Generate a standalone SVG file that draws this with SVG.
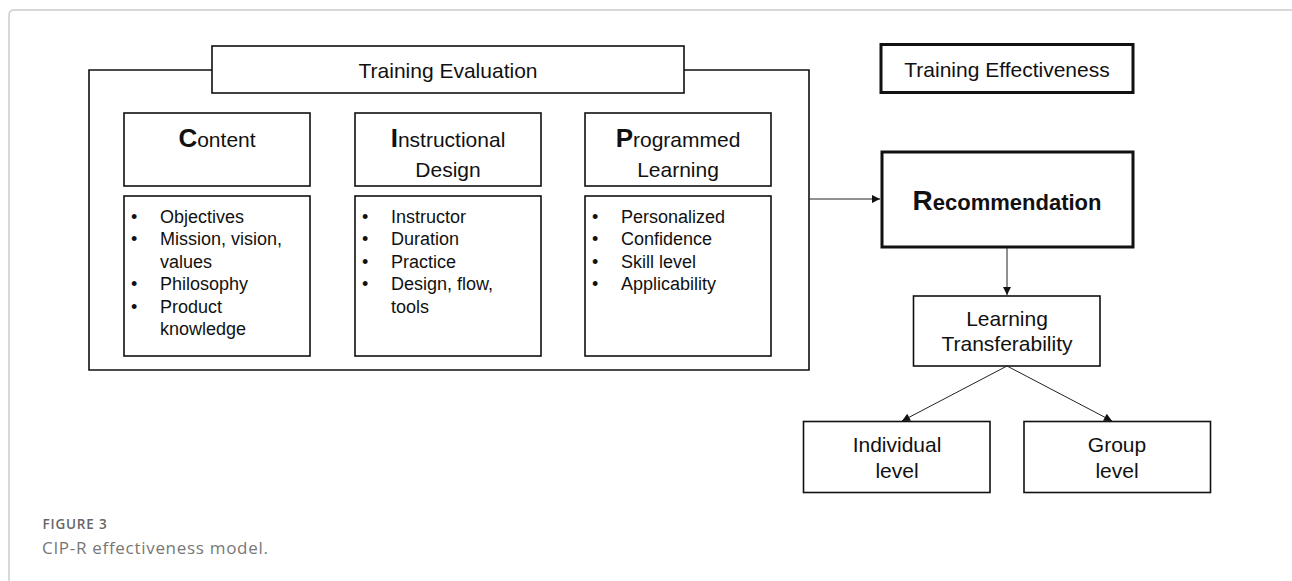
<svg xmlns="http://www.w3.org/2000/svg" width="1292" height="581" viewBox="0 0 1292 581">
  <style>
    .txt { font-family: "Liberation Sans", Arial, sans-serif; fill: #111; }
    .t21 { font-size: 21px; }
    .t18 { font-size: 18px; }
    .cap { font-size: 26px; font-weight: bold; }
    .box { fill: #fff; stroke: #111; stroke-width: 1.6; }
    .thick { fill: #fff; stroke: #111; stroke-width: 3; }
    .frame { fill: none; stroke: #111; stroke-width: 1.6; }
    .conn { fill: none; stroke: #222; stroke-width: 1; }
    .card { fill: none; stroke: #cccccc; stroke-width: 1.5; }
    .fig { font-family: "Open Sans", "Lato", sans-serif; }
  </style>
  <defs>
    <marker id="arrow" viewBox="0 0 10 10" refX="10" refY="5" markerWidth="9" markerHeight="8" markerUnits="userSpaceOnUse" orient="auto">
      <path d="M0,0 L10,5 L0,10 Z" fill="#111"/>
    </marker>
  </defs>

  <rect width="1292" height="581" fill="#fff"/>
  <!-- card border -->
  <path class="card" d="M1292,10 L14,10 Q9,10 9,15 L9,581"/>

  <!-- outer frame of the evaluation block -->
  <g id="evaluation-frame">
    <path class="frame" d="M212,70 L89,70 L89,370 L809,370 L809,70 L684,70"/>
  </g>

  <g id="training-evaluation">
    <rect class="box" x="212" y="46" width="472" height="47"/>
    <text class="txt t21" x="448" y="78" text-anchor="middle">Training Evaluation</text>
  </g>

  <g id="content">
    <rect class="box" x="124" y="113" width="186" height="73"/>
    <text class="txt t21" x="217" y="147" text-anchor="middle"><tspan class="cap">C</tspan>ontent</text>
  </g>
  <g id="content-list">
    <rect class="box" x="124" y="196" width="186" height="160"/>
    <g class="txt t18">
      <text x="131" y="222.5">•</text><text x="160" y="222.5">Objectives</text>
      <text x="131" y="245">•</text><text x="160" y="245">Mission, vision,</text>
      <text x="160" y="267.5">values</text>
      <text x="131" y="290">•</text><text x="160" y="290">Philosophy</text>
      <text x="131" y="312.5">•</text><text x="160" y="312.5">Product</text>
      <text x="160" y="335">knowledge</text>
    </g>
  </g>

  <g id="instructional-design">
    <rect class="box" x="355" y="113" width="186" height="73"/>
    <text class="txt t21" x="448" y="147" text-anchor="middle"><tspan class="cap">I</tspan>nstructional</text>
    <text class="txt t21" x="448" y="176.5" text-anchor="middle">Design</text>
  </g>
  <g id="instructional-list">
    <rect class="box" x="355" y="196" width="186" height="160"/>
    <g class="txt t18">
      <text x="362" y="222.5">•</text><text x="391" y="222.5">Instructor</text>
      <text x="362" y="245">•</text><text x="391" y="245">Duration</text>
      <text x="362" y="267.5">•</text><text x="391" y="267.5">Practice</text>
      <text x="362" y="290">•</text><text x="391" y="290">Design, flow,</text>
      <text x="391" y="312.5">tools</text>
    </g>
  </g>

  <g id="programmed-learning">
    <rect class="box" x="585" y="113" width="186" height="73"/>
    <text class="txt t21" x="678" y="147" text-anchor="middle"><tspan class="cap">P</tspan>rogrammed</text>
    <text class="txt t21" x="678" y="176.5" text-anchor="middle">Learning</text>
  </g>
  <g id="programmed-list">
    <rect class="box" x="585" y="196" width="186" height="160"/>
    <g class="txt t18">
      <text x="592" y="222.5">•</text><text x="621" y="222.5">Personalized</text>
      <text x="592" y="245">•</text><text x="621" y="245">Confidence</text>
      <text x="592" y="267.5">•</text><text x="621" y="267.5">Skill level</text>
      <text x="592" y="290">•</text><text x="621" y="290">Applicability</text>
    </g>
  </g>

  <g id="training-effectiveness">
    <rect class="thick" x="881" y="44.5" width="252" height="48" stroke-width="2.6"/>
    <text class="txt t21" x="1007" y="76.5" text-anchor="middle">Training Effectiveness</text>
  </g>

  <g id="recommendation">
    <rect class="thick" x="882" y="152" width="251" height="95"/>
    <text class="txt" x="1007" y="210" text-anchor="middle" font-weight="bold" font-size="22"><tspan font-size="28">R</tspan>ecommendation</text>
  </g>

  <g id="learning-transferability">
    <rect class="box" x="913.5" y="296" width="186.5" height="70"/>
    <text class="txt t21" x="1007" y="326" text-anchor="middle">Learning</text>
    <text class="txt t21" x="1007" y="351" text-anchor="middle">Transferability</text>
  </g>

  <g id="individual-level">
    <rect class="box" x="803.5" y="421.5" width="186.5" height="71"/>
    <text class="txt t21" x="897" y="452" text-anchor="middle">Individual</text>
    <text class="txt t21" x="897" y="477.5" text-anchor="middle">level</text>
  </g>

  <g id="group-level">
    <rect class="box" x="1024" y="421.5" width="186.5" height="71"/>
    <text class="txt t21" x="1117" y="452" text-anchor="middle">Group</text>
    <text class="txt t21" x="1117" y="477.5" text-anchor="middle">level</text>
  </g>

  <g id="connectors">
    <line class="conn" x1="809" y1="199" x2="880" y2="199" marker-end="url(#arrow)"/>
    <line class="conn" x1="1007" y1="248" x2="1007" y2="295" marker-end="url(#arrow)"/>
    <line class="conn" x1="1007" y1="366" x2="902" y2="421" marker-end="url(#arrow)"/>
    <line class="conn" x1="1007" y1="366" x2="1112" y2="421" marker-end="url(#arrow)"/>
  </g>

  <g id="caption">
    <text class="fig" x="42.5" y="528.5" font-size="13.5" font-weight="600" letter-spacing="0.8" fill="#666">FIGURE 3</text>
    <text class="fig" x="42" y="554" font-size="17" letter-spacing="0.7" fill="#777">CIP-R effectiveness model.</text>
  </g>
</svg>
